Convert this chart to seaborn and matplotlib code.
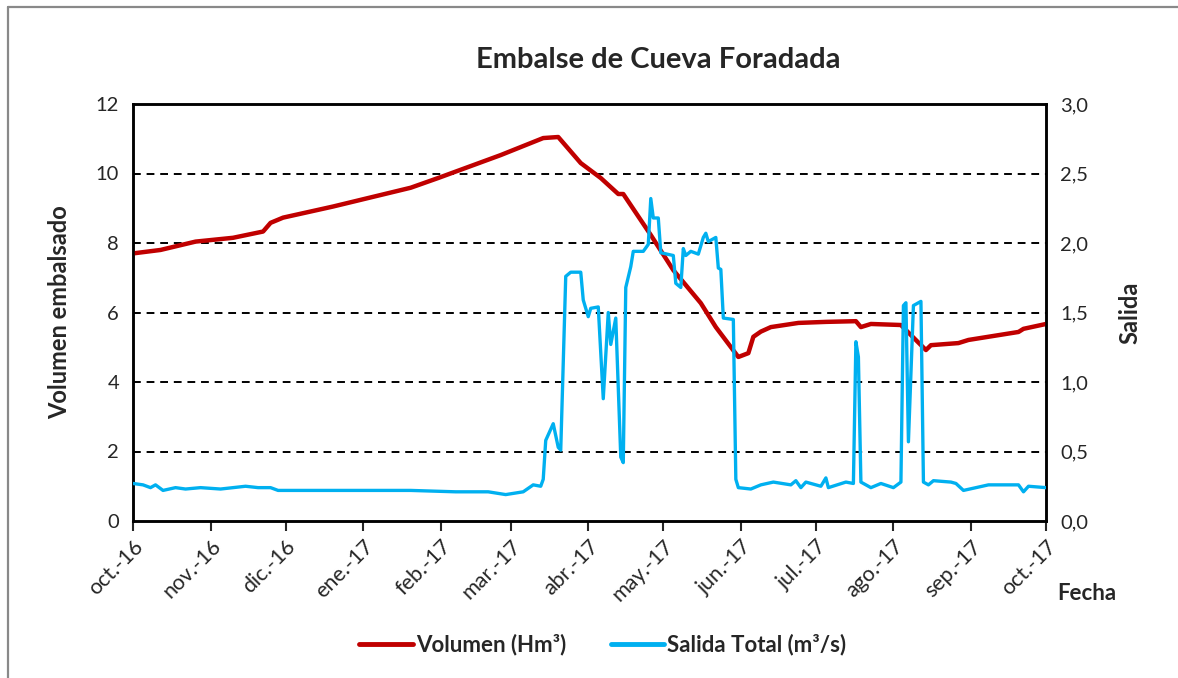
import pandas as pd
import seaborn as sns
import matplotlib.pyplot as plt
import matplotlib.lines as mlines

# Volumen embalsado (Hm3)
vol_dates = ["2016-10-01", "2016-10-12", "2016-10-26", "2016-11-10", "2016-11-22", "2016-11-25",
             "2016-11-30", "2016-12-20", "2017-01-20", "2017-01-31", "2017-02-25", "2017-03-14",
             "2017-03-20", "2017-03-29", "2017-04-06", "2017-04-13", "2017-04-15", "2017-04-26",
             "2017-05-05", "2017-05-16", "2017-05-22", "2017-05-31", "2017-06-04", "2017-06-06",
             "2017-06-09", "2017-06-13", "2017-06-24", "2017-07-05", "2017-07-17", "2017-07-19",
             "2017-07-23", "2017-08-04", "2017-08-08", "2017-08-14", "2017-08-16", "2017-08-27",
             "2017-08-31", "2017-09-20", "2017-09-22", "2017-10-01"]
vol_values = [7.70, 7.80, 8.04, 8.15, 8.33, 8.58,
              8.73, 9.05, 9.59, 9.87, 10.53, 11.02,
              11.05, 10.30, 9.87, 9.41, 9.41, 8.23,
              7.22, 6.27, 5.58, 4.72, 4.83, 5.30,
              5.45, 5.58, 5.70, 5.73, 5.75, 5.58,
              5.67, 5.64, 5.35, 4.92, 5.06, 5.12,
              5.21, 5.44, 5.53, 5.67]

# Salida total (m3/s)
sal_dates = ["2016-10-01", "2016-10-05", "2016-10-08", "2016-10-10", "2016-10-13", "2016-10-18",
             "2016-10-22", "2016-10-28", "2016-11-05", "2016-11-10", "2016-11-15", "2016-11-20",
             "2016-11-25", "2016-11-28", "2016-12-05", "2016-12-20", "2017-01-04", "2017-01-20",
             "2017-02-07", "2017-02-20", "2017-02-27", "2017-03-06", "2017-03-10", "2017-03-13",
             "2017-03-14", "2017-03-15", "2017-03-18", "2017-03-20", "2017-03-21", "2017-03-23",
             "2017-03-25", "2017-03-29", "2017-03-30", "2017-04-01", "2017-04-02", "2017-04-05",
             "2017-04-07", "2017-04-09", "2017-04-10", "2017-04-12", "2017-04-14", "2017-04-15",
             "2017-04-16", "2017-04-18", "2017-04-19", "2017-04-23", "2017-04-25", "2017-04-26",
             "2017-04-27", "2017-04-29", "2017-04-30", "2017-05-05", "2017-05-06", "2017-05-08",
             "2017-05-09", "2017-05-10", "2017-05-12", "2017-05-15", "2017-05-17", "2017-05-18",
             "2017-05-19", "2017-05-22", "2017-05-23", "2017-05-24", "2017-05-25", "2017-05-29",
             "2017-05-30", "2017-05-31", "2017-06-05", "2017-06-09", "2017-06-14", "2017-06-21",
             "2017-06-23", "2017-06-25", "2017-06-27", "2017-07-03", "2017-07-05", "2017-07-06",
             "2017-07-13", "2017-07-16", "2017-07-17", "2017-07-18", "2017-07-19", "2017-07-23",
             "2017-07-27", "2017-08-01", "2017-08-04", "2017-08-05", "2017-08-06", "2017-08-07",
             "2017-08-09", "2017-08-12", "2017-08-13", "2017-08-15", "2017-08-17", "2017-08-24",
             "2017-08-26", "2017-08-29", "2017-09-08", "2017-09-20", "2017-09-22", "2017-09-24",
             "2017-10-01"]
sal_values = [0.27, 0.26, 0.24, 0.26, 0.22, 0.24,
              0.23, 0.24, 0.23, 0.24, 0.25, 0.24,
              0.24, 0.22, 0.22, 0.22, 0.22, 0.22,
              0.21, 0.21, 0.19, 0.21, 0.26, 0.25,
              0.30, 0.58, 0.70, 0.53, 0.51, 1.76,
              1.79, 1.79, 1.59, 1.47, 1.53, 1.54,
              0.88, 1.50, 1.27, 1.46, 0.46, 0.42,
              1.68, 1.83, 1.94, 1.94, 1.99, 2.32,
              2.18, 2.18, 1.93, 1.91, 1.71, 1.68,
              1.96, 1.91, 1.94, 1.92, 2.04, 2.07,
              2.01, 2.04, 1.82, 1.81, 1.46, 1.45,
              0.30, 0.24, 0.23, 0.26, 0.28, 0.26,
              0.29, 0.24, 0.28, 0.25, 0.31, 0.24,
              0.28, 0.27, 1.29, 1.18, 0.28, 0.24,
              0.27, 0.24, 0.28, 1.55, 1.57, 0.57,
              1.55, 1.58, 0.28, 0.26, 0.29, 0.28,
              0.27, 0.22, 0.26, 0.26, 0.21, 0.25,
              0.24]

month_ticks = pd.date_range("2016-10-01", "2017-10-01", freq="MS")
month_labels = ["oct.-16", "nov.-16", "dic.-16", "ene.-17", "feb.-17", "mar.-17", "abr.-17",
                "may.-17", "jun.-17", "jul.-17", "ago.-17", "sep.-17", "oct.-17"]

sns.set_style("white")
plt.rcParams["font.family"] = ["Lato", "DejaVu Sans"]

vol = pd.DataFrame({"fecha": pd.to_datetime(vol_dates), "volumen": vol_values})
sal = pd.DataFrame({"fecha": pd.to_datetime(sal_dates), "salida": sal_values})

RED = "#C00000"
BLUE = "#00B0F0"

fig = plt.figure(figsize=(11.78, 6.78), dpi=100)
ax = fig.add_axes([133 / 1178, 1 - 521 / 678, (1046 - 133) / 1178, (521 - 104) / 678])
ax2 = ax.twinx()

sns.lineplot(data=vol, x="fecha", y="volumen", ax=ax, color=RED, linewidth=3.2, zorder=3)
sns.lineplot(data=sal, x="fecha", y="salida", ax=ax2, color=BLUE, linewidth=2.4, zorder=3)

ax.set_xlim(month_ticks[0], month_ticks[-1])
ax.set_ylim(0, 12)
ax2.set_ylim(0, 3.0)
ax.set_yticks(range(0, 13, 2))
ax2.set_yticks([0, 0.5, 1.0, 1.5, 2.0, 2.5, 3.0])
ax2.set_yticklabels([f"{v:.1f}".replace(".", ",") for v in [0, 0.5, 1.0, 1.5, 2.0, 2.5, 3.0]])
ax.set_xticks(month_ticks)
ax.set_xticklabels(month_labels, rotation=45, ha="right", rotation_mode="anchor")

for y in range(2, 12, 2):
    ax.axhline(y, color="black", linestyle=(0, (4, 3)), linewidth=1.4, zorder=1)

for a in (ax, ax2):
    for s in a.spines.values():
        s.set_color("black")
        s.set_linewidth(1.8)
    a.tick_params(axis="y", length=0, labelsize=14.5, pad=10)
ax.tick_params(axis="x", length=7, width=1.5, direction="out", labelsize=15.5, pad=4, bottom=True)

ax.set_xlabel("")
ax.set_ylabel("Volumen embalsado", fontsize=17, fontweight="bold", labelpad=18)
ax2.set_ylabel("Salida", fontsize=17, fontweight="bold", labelpad=22)
fig.text(1087 / 1178, 1 - 593 / 678, "Fecha", fontsize=16, fontweight="bold", ha="center", va="center")
fig.text(658 / 1178, 1 - 60 / 678, "Embalse de Cueva Foradada", fontsize=21, fontweight="bold",
         ha="center", va="center")

handles = [mlines.Line2D([], [], color=RED, linewidth=3.5),
           mlines.Line2D([], [], color=BLUE, linewidth=3.5)]
fig.legend(handles, ["Volumen (Hm³)", "Salida Total (m³/s)"], loc="center", ncol=2,
           bbox_to_anchor=(603 / 1178, 1 - 645 / 678), frameon=False,
           prop={"size": 16, "weight": "bold"}, handlelength=2.4, handletextpad=0.15,
           columnspacing=2.0)

# marco gris del area del grafico
fig.add_artist(mlines.Line2D([8 / 1178, 8 / 1178], [0, 1 - 7 / 678], color="#898989", linewidth=1.6))
fig.add_artist(mlines.Line2D([8 / 1178, 1], [1 - 7 / 678, 1 - 7 / 678], color="#898989", linewidth=1.6))

plt.savefig("out.png", dpi=100)
